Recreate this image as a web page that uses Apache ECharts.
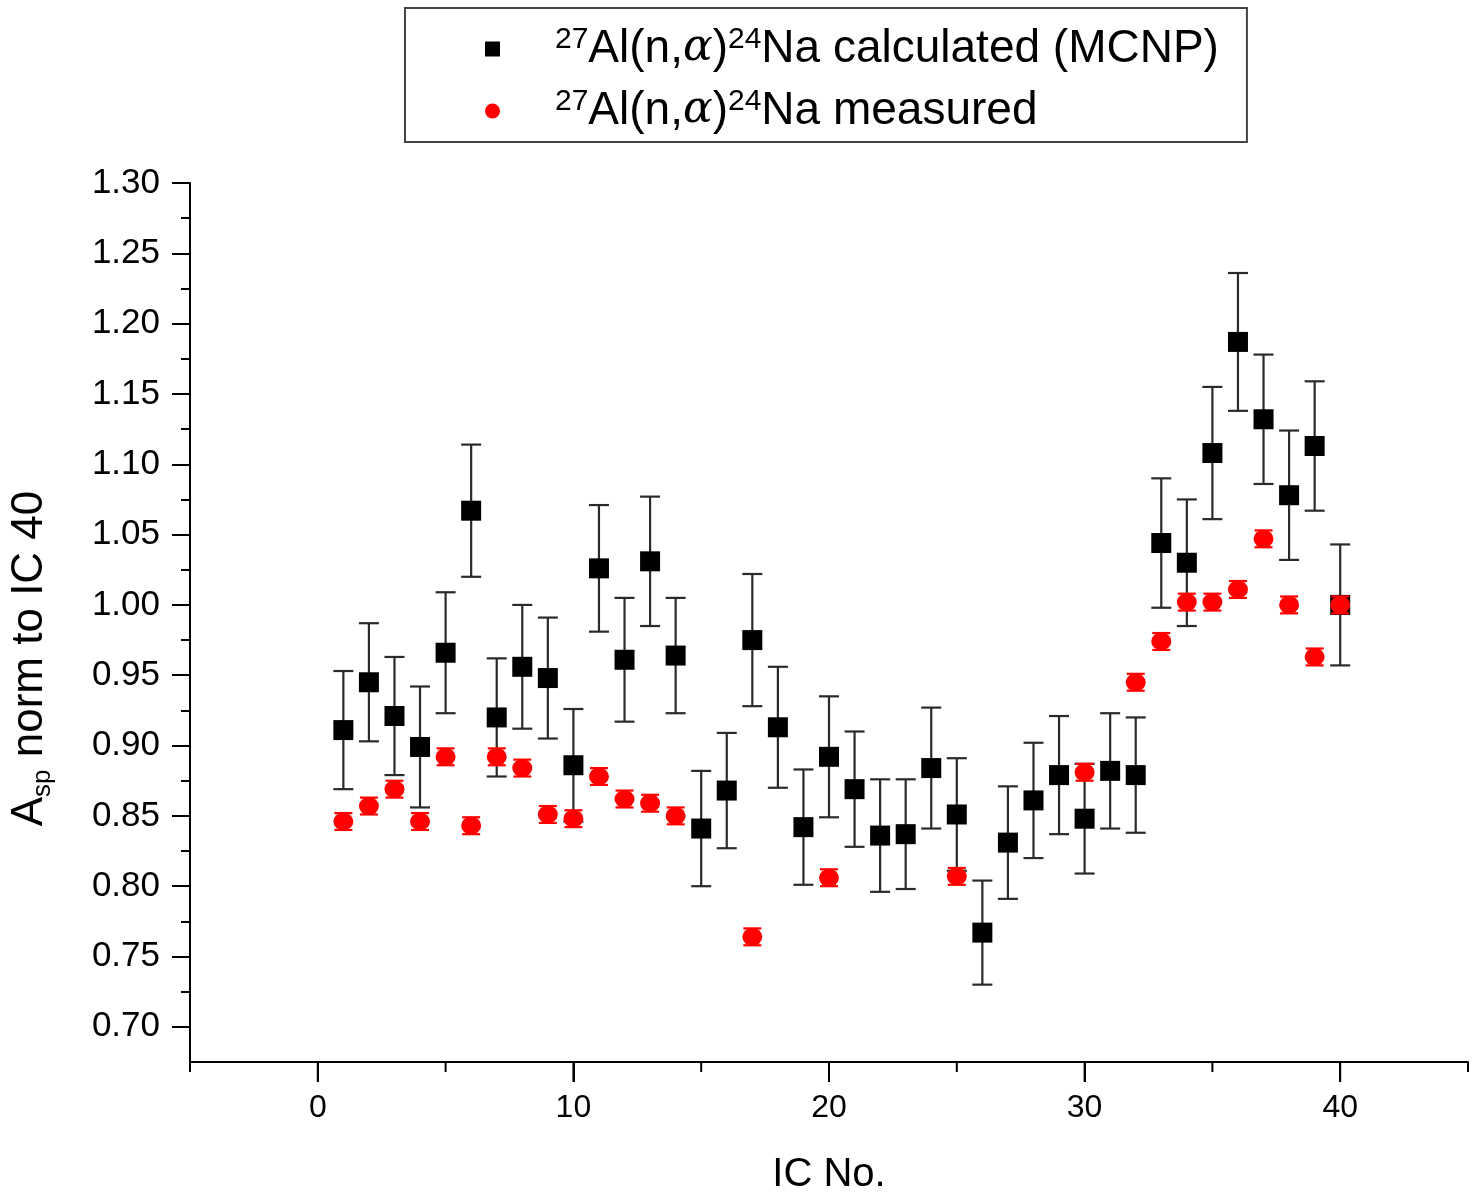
<!DOCTYPE html>
<html>
<head>
<meta charset="utf-8">
<script src="https://cdn.jsdelivr.net/npm/echarts@6/dist/echarts.min.js"></script>
<style>
html, body { margin: 0; padding: 0; background: #fff; }
#chart { width: 1475px; height: 1204px; background: #fff; }
</style>
</head>
<body>
<div id="chart"></div>
<script>
// IC positions and values
var icNo = [1, 2, 3, 4, 5, 6, 7, 8, 9, 10, 11, 12, 13, 14, 15, 16, 17, 18, 19, 20,
            21, 22, 23, 24, 25, 26, 27, 28, 29, 30, 31, 32, 33, 34, 35, 36, 37, 38, 39, 40];
var calcValues = [0.911, 0.945, 0.921, 0.899, 0.966, 1.067, 0.920, 0.956, 0.948, 0.886,
                  1.026, 0.961, 1.031, 0.964, 0.841, 0.868, 0.975, 0.913, 0.842, 0.892,
                  0.869, 0.836, 0.837, 0.884, 0.851, 0.767, 0.831, 0.861, 0.879, 0.848,
                  0.882, 0.879, 1.044, 1.030, 1.108, 1.187, 1.132, 1.078, 1.113, 1.000];
var calcErrors = [0.042, 0.042, 0.042, 0.043, 0.043, 0.047, 0.042, 0.044, 0.043, 0.040,
                  0.045, 0.044, 0.046, 0.041, 0.041, 0.041, 0.047, 0.043, 0.041, 0.043,
                  0.041, 0.040, 0.039, 0.043, 0.040, 0.037, 0.040, 0.041, 0.042, 0.039,
                  0.041, 0.041, 0.046, 0.045, 0.047, 0.049, 0.046, 0.046, 0.046, 0.043];

var measIC = [1, 2, 3, 4, 5, 6, 7, 8, 9, 10, 11, 12, 13, 14, 17, 20, 25, 30,
              32, 33, 34, 35, 36, 37, 38, 39, 40];
var measValues = [0.846, 0.857, 0.869, 0.846, 0.892, 0.843, 0.892, 0.884, 0.851, 0.848,
                  0.878, 0.862, 0.859, 0.850, 0.764, 0.806, 0.807, 0.881,
                  0.945, 0.974, 1.002, 1.002, 1.011, 1.047, 1.000, 0.963, 1.000];
var measErrors = [0.006, 0.006, 0.006, 0.006, 0.006, 0.006, 0.006, 0.006, 0.006, 0.006,
                  0.006, 0.006, 0.006, 0.006, 0.006, 0.006, 0.006, 0.006,
                  0.006, 0.006, 0.006, 0.006, 0.006, 0.006, 0.006, 0.006, 0.006];

var xLabelValues = [0, 10, 20, 30, 40];
var xMinorValues = [-5, 5, 15, 25, 35, 45];
var yLabelValues = [0.70, 0.75, 0.80, 0.85, 0.90, 0.95, 1.00, 1.05, 1.10, 1.15, 1.20, 1.25, 1.30];
var yMinorValues = [0.725, 0.775, 0.825, 0.875, 0.925, 0.975, 1.025, 1.075, 1.125, 1.175, 1.225, 1.275];
var yMin = 0.675, yMax = 1.30;

var calcName = '27Al(n,\u03b1)24Na calculated (MCNP)';
var measName = '27Al(n,\u03b1)24Na measured';
var legendText = {};
legendText[calcName] = '{sup|27}Al(n,{gr|\u03b1}){sup|24}Na calculated (MCNP)';
legendText[measName] = '{sup|27}Al(n,{gr|\u03b1}){sup|24}Na measured';

var font = '"Liberation Sans", Arial, sans-serif';

var calcPoints = [], calcBars = [], measPoints = [], measBars = [];
for (var i = 0; i < icNo.length; i++) {
    calcPoints.push([icNo[i], calcValues[i]]);
    calcBars.push([icNo[i], calcValues[i], calcErrors[i]]);
}
for (var j = 0; j < measIC.length; j++) {
    measPoints.push([measIC[j], measValues[j]]);
    measBars.push([measIC[j], measValues[j], measErrors[j]]);
}
var xMajorTicks = [], xMinorTicks = [];
for (var k = 0; k < xLabelValues.length; k++) xMajorTicks.push([xLabelValues[k], yMin]);
for (var m = 0; m < xMinorValues.length; m++) xMinorTicks.push([xMinorValues[m], yMin]);

function errorBars(color, cap) {
    return function (params, api) {
        var x = api.value(0), y = api.value(1), e = api.value(2);
        var hi = api.coord([x, y + e]);
        var lo = api.coord([x, y - e]);
        var st = { stroke: color, lineWidth: 2.2 };
        return {
            type: 'group',
            children: [
                { type: 'line', shape: { x1: hi[0], y1: hi[1], x2: lo[0], y2: lo[1] }, style: st },
                { type: 'line', shape: { x1: hi[0] - cap / 2, y1: hi[1], x2: hi[0] + cap / 2, y2: hi[1] }, style: st },
                { type: 'line', shape: { x1: lo[0] - cap / 2, y1: lo[1], x2: lo[0] + cap / 2, y2: lo[1] }, style: st }
            ]
        };
    };
}

// outward tick marks under the x axis
function xTick(len) {
    return function (params, api) {
        var p = api.coord([api.value(0), api.value(1)]);
        return {
            type: 'line',
            shape: { x1: p[0], y1: p[1], x2: p[0], y2: p[1] + len },
            style: { stroke: '#000', lineWidth: 2 }
        };
    };
}

var tickStyle = { color: '#000', width: 2 };

var myChart = echarts.init(document.getElementById('chart'));
myChart.setOption({
    animation: false,
    grid: { left: 190, right: 7, top: 183, bottom: 142, outerBoundsMode: 'none' },
    legend: {
        orient: 'vertical',
        left: 405,
        top: 8,
        padding: [17, 28, 7, 80],
        itemGap: 14,
        itemWidth: 15,
        itemHeight: 15,
        borderColor: '#444',
        borderWidth: 2,
        data: [{ name: calcName, icon: 'rect' }, { name: measName, icon: 'circle' }],
        formatter: function (name) { return legendText[name]; },
        textStyle: {
            fontFamily: font,
            fontSize: 46,
            color: '#000',
            lineHeight: 48,
            padding: [0, 0, 0, 50],
            rich: {
                sup: { fontFamily: font, fontSize: 30, lineHeight: 30, verticalAlign: 'top', color: '#000' },
                gr: { fontFamily: '"DejaVu Serif", serif', fontStyle: 'italic', fontSize: 44, lineHeight: 48, color: '#000' }
            }
        }
    },
    xAxis: {
        type: 'value', min: -5, max: 45, position: 'bottom',
        axisLine: { onZero: false, lineStyle: { color: '#000', width: 2 } },
        splitLine: { show: false },
        axisTick: { show: true, customValues: xLabelValues.slice(), length: 20, lineStyle: tickStyle },
        axisLabel: {
            customValues: xLabelValues.slice(), fontFamily: font, fontSize: 32, color: '#000', margin: 30,
            backgroundColor: 'transparent'
        },
        name: 'IC No.',
        nameLocation: 'middle',
        nameGap: 93,
        nameTextStyle: { fontFamily: font, fontSize: 40, color: '#000' }
    },
    yAxis: [
        {
            type: 'value', min: yMin, max: yMax, position: 'left',
            axisLine: { show: true, onZero: false, lineStyle: { color: '#000', width: 2 } },
            splitLine: { show: false },
            axisTick: { show: true, customValues: yLabelValues.slice(), length: 18, lineStyle: tickStyle },
            axisLabel: {
                customValues: yLabelValues.slice(), fontFamily: font, fontSize: 35, color: '#000', margin: 30,
                formatter: function (v) { return v.toFixed(2); }
            },
            name: 'A{sub|sp} norm to IC 40',
            nameLocation: 'middle',
            nameRotate: 90,
            nameGap: 134,
            nameTextStyle: {
                fontFamily: font, fontSize: 44, color: '#000', lineHeight: 52,
                padding: [0, 72, 0, 0],
                rich: { sub: { fontFamily: font, fontSize: 26, lineHeight: 26, verticalAlign: 'bottom', color: '#000' } }
            }
        },
        {
            type: 'value', min: yMin, max: yMax, position: 'left',
            axisLine: { show: false, onZero: false },
            splitLine: { show: false },
            axisTick: { show: true, customValues: yMinorValues.slice(), length: 9, lineStyle: tickStyle },
            axisLabel: { show: false }
        }
    ],
    series: [
        {
            type: 'custom',
            name: 'xMajorTicks',
            renderItem: xTick(20),
            encode: { x: 0, y: 1 },
            data: xMajorTicks,
            clip: false,
            silent: true,
            z: 10
        },
        {
            type: 'custom',
            name: 'xMinorTicks',
            renderItem: xTick(10),
            encode: { x: 0, y: 1 },
            data: xMinorTicks,
            clip: false,
            silent: true,
            z: 10
        },
        {
            type: 'custom',
            name: 'calcErr',
            renderItem: errorBars('#2a2a2a', 20),
            encode: { x: 0, y: 1 },
            data: calcBars,
            z: 2
        },
        {
            type: 'scatter',
            name: calcName,
            symbol: 'rect',
            symbolSize: 20,
            itemStyle: { color: '#000', opacity: 1 },
            data: calcPoints,
            z: 3
        },
        {
            type: 'custom',
            name: 'measErr',
            renderItem: errorBars('#ff0000', 18),
            encode: { x: 0, y: 1 },
            data: measBars,
            z: 4
        },
        {
            type: 'scatter',
            name: measName,
            symbol: 'circle',
            symbolSize: [20, 18],
            itemStyle: { color: '#ff0000', opacity: 1 },
            data: measPoints,
            z: 5
        }
    ]
});
</script>
</body>
</html>
